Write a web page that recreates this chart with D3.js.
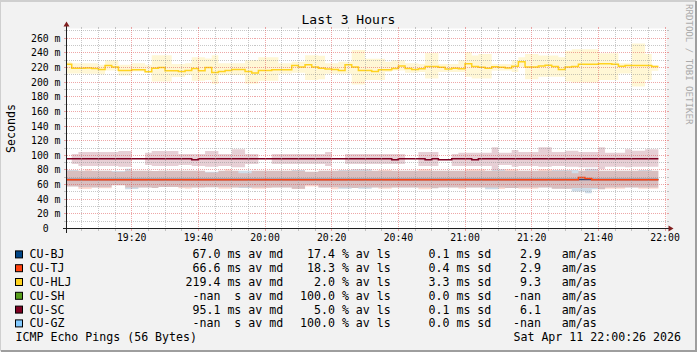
<!DOCTYPE html>
<html>
<head>
<meta charset="utf-8">
<script src="https://cdn.jsdelivr.net/npm/d3@7"></script>
<style>
  html, body { margin: 0; padding: 0; background: #f2f2f2; }
  svg { display: block; font-family: "DejaVu Sans Mono", monospace; }
  text { white-space: pre; }
</style>
</head>
<body>
<div id="chart"></div>
<script>
// legend / summary values
const hosts = ["CU-BJ", "CU-TJ", "CU-HLJ", "CU-SH", "CU-SC", "CU-GZ"];
const hostColors = ["#004586", "#ff420e", "#ffd320", "#579d1c", "#7e0021", "#83caff"];
const avgMedian = [67.0, 66.6, 219.4, NaN, 95.1, NaN];
const avgLoss = [17.4, 18.3, 2.0, 100.0, 5.0, 100.0];
const avgSdev = [0.1, 0.4, 3.3, 0.0, 0.1, 0.0];
const amAs = [2.9, 2.9, 9.3, NaN, 6.1, NaN];

// axis ticks
const yTicks = [0, 20, 40, 60, 80, 100, 120, 140, 160, 180, 200, 220, 240, 260];
const yTickLabels = ["0  ", "20 m", "40 m", "60 m", "80 m", "100 m", "120 m", "140 m", "160 m", "180 m", "200 m", "220 m", "240 m", "260 m"];
const xTickLabels = ["19:20", "19:40", "20:00", "20:20", "20:40", "21:00", "21:20", "21:40", "22:00"];

// 2 minute bins from 19:00, values in ms
const hljMedian = [
  224.4, 219, 219, 219.5, 218.7, 217.3, 222.7, 220.9, 216, 216,
  216.9, 216.9, 214.2, 219, 220, 215.6, 215.6, 214.7, 216, 218.7,
  215.6, 220, 213.3, 214.7, 216, 217.3, 217.3, 214.7, 212.4, 216,
  216, 216.9, 216.9, 216.9, 222.7, 220.9, 224, 220.9, 219.1, 218.2,
  217.3, 216, 224, 220.9, 216, 216, 214.7, 216.9, 216.9, 218.7,
  222.2, 218.7, 217.3, 218.5, 221.3, 221.3, 220.5, 218, 219, 218.5,
  225.3, 221.5, 220.5, 219, 221, 220.5, 219.5, 221.8, 228, 220.9,
  220.9, 222, 223, 221.5, 217.3, 220.9, 221.5, 224.4, 224.4, 224.4,
  225.3, 225.3, 224.4, 221.8, 222.7, 222.7, 222.7, 222.7, 221.3];
const hljHigh = [
  228, 226, 226, 226, 226, 224, 230, 230, 224, 224,
  226, 226, 224, 237, 237, 237, 225, 225, 226, 234,
  234, 232.5, 237, 226, 226, 226, 226, 230, 230, 234,
  234, 234, 226, 226, 228, 228, 237, 237, 236, 226,
  226, 228, 228, 244, 244, 232, 232, 232, 228, 230,
  230, 226, 226, 225, 240, 240, 225, 225, 225, 230,
  241, 236.5, 238.5, 238.5, 225, 225, 225, 230, 234, 238.5,
  238.5, 236.5, 236.5, 236.5, 234, 243, 245, 245, 245, 245,
  239.5, 239.5, 239.5, 226, 226, 253, 253, 238.5, 223];
const hljLow = [
  212, 212, 212, 211.5, 211.5, 211, 216, 216, 209, 209,
  214.5, 214.5, 213, 201, 201, 201, 207, 207, 210, 202,
  202, 203, 197.5, 210, 210, 210, 210, 198, 198, 202,
  202, 202, 211.5, 211.5, 213, 213, 203, 203, 204, 211.5,
  211.5, 211.5, 211.5, 197, 197, 203, 203, 203, 214, 216,
  216, 213, 213, 214, 205, 205, 214, 214, 214, 214,
  207.5, 205, 205, 205, 216, 216, 216, 214, 220.5, 204,
  204, 207.5, 207.5, 207.5, 207.5, 201, 199.5, 199.5, 199.5, 199.5,
  203, 203, 203, 212, 212, 194, 194, 203, 215.5];

const scMedian = [
  95.5, 95.5, 95.5, 95.5, 95.5, 95.5, 95.5, 95.5, 95.5, 95.5,
  95.5, 95.5, 95.5, 95.5, 95.5, 95.5, 95.5, 95.5, 95.5, 94,
  95.5, 95.5, 95.5, 95.5, 95.5, 95.5, 95.5, 95.5, 95.5, 95.5,
  95.5, 95.5, 95.5, 95.5, 95.5, 95.5, 95.5, 95.5, 95.5, 95.5,
  95.5, 95.5, 95.5, 95.5, 95.5, 95.5, 95.5, 95.5, 95.5, 94,
  95.5, 95.5, 95.5, 95.5, 94, 95.5, 94, 94, 95.5, 95.5,
  95.5, 94, 95.5, 95.5, 95.5, 95.5, 95.5, 95.5, 95.5, 95.5,
  95.5, 95.5, 95.5, 95.5, 95.5, 95.5, 95.5, 95.5, 95.5, 95.5,
  95.5, 95.5, 95.5, 95.5, 95.5, 95.5, 95.5, 95.5, 95.5];
const scHigh = [
  null, 101.8, 104.5, 104.5, 104.5, 104.5, 104.5, 104.5, 105.9, 105.9,
  null, null, 103.6, 105.9, 105.9, 105.9, 105.9, 101.8, 101.8, 101.8,
  101.8, 105.9, 105.9, 101.8, 101.8, 108.2, 108.2, 101.8, 101.8, null,
  null, 101.8, 101.8, 101.8, 101.8, 101.8, 101.8, 101.8, 101.8, 104.5,
  null, null, 101.8, 101.8, 101.8, 101.8, 101.8, 101.8, 101.8, 101.8,
  101.8, null, null, 104.5, 104.5, 104.5, null, null, 101.8, 103.6,
  103.6, 103.6, 103.6, 103.6, 110.9, 103.6, 103.6, 107.3, 104.5, 104.5,
  104.5, 110.9, 110.9, 104.5, 104.5, 106.4, 106.4, 104.5, 104.5, 104.5,
  110.9, 103.6, 103.6, 103.6, 108.2, 106.4, 106.4, 108.2, 108.2];
const scLow = [
  null, 88.2, 85.5, 85.5, 85.5, 85.5, 85.5, 85.5, 84.5, 84.5,
  null, null, 86.8, 85.5, 85.5, 85.5, 85.5, 86.8, 86.8, 85.5,
  85.5, 84.5, 84.5, 85.5, 85.5, 83.6, 83.6, 88.2, 88.2, null,
  null, 88.2, 88.2, 88.2, 88.2, 88.2, 88.2, 88.2, 88.2, 85.5,
  null, null, 88.2, 88.2, 88.2, 88.2, 88.2, 88.2, 88.2, 88.2,
  88.2, null, null, 85.5, 85.5, 85.5, null, null, 85.5, 85.5,
  85.5, 85.5, 85.5, 85.5, 80.9, 86.8, 86.8, 84.5, 85.5, 85.5,
  85.5, 84.5, 84.5, 85.5, 85.5, 84.5, 84.5, 83.6, 83.6, 83.6,
  80.9, 84.5, 84.5, 84.5, 83.6, 84.5, 84.5, 84.5, 84.5];

const bjMedian = [
  67, 67, 67, 67, 67, 67, 67, 67, 67, 67,
  67, 67, 67, 67, 67, 67, 67, 67, 67, 67,
  67, 67, 67, 67, 67, 67, 67, 67, 67, 67,
  67, 67, 67, 67, 67, 67, 67, 67, 67, 67,
  67, 67, 67, 67, 67, 67, 67, 67, 67, 67,
  67, 67, 67, 67, 67, 67, 67, 67, 67, 67,
  67, 67, 67, 67, 67, 67, 67, 67, 67, 67,
  67, 67, 67, 67, 67, 67, 67, 67, 67, 67,
  67, 67, 67, 67, 67, 67, 67, 67, 67];
const bjHigh = [
  80, 80, 79.1, 79.1, 79.1, 79.1, 79.1, 78.6, 78.6, 81.8,
  79.1, 79.1, 79.1, 78.6, 79.1, 79.1, 79.1, 79.1, 79.1, 79.1,
  79.1, 77.5, 77.5, 79.1, 79.1, 79.1, 79.1, 79.1, 79.1, 79.1,
  79.1, 79.1, 79.1, 79.1, 80, 80, 77.5, 77.5, 79.1, 79.1,
  79.1, 80, 80, 80.9, 80.9, 80.9, 79.1, 79.1, 79.1, 79.1,
  79.1, 79.1, 79.1, 79.1, 79.1, 79.1, 79.1, 79.1, 79.1, 79.1,
  79.1, 79.1, 79.1, 79.1, 80.9, 80.9, 79.1, 79.1, 79.1, 79.1,
  79.1, 79.1, 79.1, 80, 80, 80, 80, 79.1, 81.8, 81.8,
  79.1, 79.1, 79.1, 79.1, 79.1, 79.1, 80, 80, 79.1];
const bjLow = [
  57.3, 57.3, 56.4, 56.4, 55.9, 56.4, 56.4, 59.1, 59.1, 53.6,
  54.1, 55.9, 55.9, 55.5, 56.8, 56.8, 56.8, 56.4, 56.4, 55.9,
  55.9, 56.4, 56.4, 56.4, 56.4, 55.9, 55.5, 55.5, 56, 56,
  56, 56, 56, 56, 54.5, 54.5, 59, 59, 55.9, 55.9,
  56.4, 54.5, 54.5, 55.5, 54.5, 54.5, 55.9, 55.9, 55.9, 55.9,
  55.9, 55.9, 55.9, 55.9, 55.9, 55, 55.9, 55.9, 55.9, 55.9,
  55.9, 55.9, 55.9, 53.6, 53.6, 55.9, 55.5, 55.5, 55.9, 55.9,
  55.9, 55.9, 55.9, 54.5, 54.5, 54.5, 50.5, 50.5, 48.2, 53.6,
  53.6, 55.9, 55.9, 55.9, 55.9, 55.9, 55.9, 55.9, 55.9];

const tjMedian = [
  66.6, 66.6, 66.6, 66.6, 66.6, 66.6, 66.6, 66.6, 66.6, 66.6,
  66.6, 66.6, 66.6, 66.6, 66.6, 66.6, 66.6, 66.6, 66.6, 66.6,
  66.6, 66.6, 66.6, 66.6, 66.6, 66.6, 66.6, 66.6, 66.6, 66.6,
  66.6, 66.6, 66.6, 66.6, 66.6, 66.6, 66.6, 66.6, 66.6, 66.6,
  66.6, 66.6, 66.6, 66.6, 66.6, 66.6, 66.6, 66.6, 66.6, 66.6,
  66.6, 66.6, 66.6, 66.6, 66.6, 66.6, 66.6, 66.6, 66.6, 66.6,
  66.6, 66.6, 66.6, 66.6, 66.6, 66.6, 66.6, 66.6, 66.6, 66.6,
  66.6, 66.6, 66.6, 66.6, 66.6, 66.6, 66.6, 69.6, 68.2, 66.6,
  66.6, 66.6, 66.6, 66.6, 66.6, 66.6, 66.6, 66.6, 66.6];
const tjHigh = [
  79.1, 79.1, 79.1, 80.9, 79.1, 79.1, 79.1, 77.7, 77.7, 79.1,
  79.1, 79.1, 79.1, 78.6, 79.1, 79.1, 79.1, 79.1, 79.1, 79.1,
  79.1, 76.5, 76.5, 79.1, 80.9, 79.1, 75.5, 75.5, 79.1, 79.1,
  79.1, 79.1, 79.1, 79.1, 79.1, 79.1, 77.7, 77.7, 79.1, 79.1,
  79.1, 79.1, 79.1, 79.1, 79.1, 79.1, 79.1, 80, 80, 79.1,
  79.1, 79.1, 79.1, 80.9, 80.9, 79.1, 79.1, 79.1, 79.1, 79.1,
  80.9, 80.9, 80.9, 79.1, 79.1, 79.1, 80.9, 80.9, 79.1, 79.1,
  79.1, 80.9, 80.9, 79.1, 79.1, 79.1, 75.5, 79.1, 79.1, 79.1,
  79.1, 79.1, 79.1, 79.1, 79.1, 79.1, 79.1, 79.1, 79.1];
const tjLow = [
  57.3, 57.3, 54.1, 54.1, 55.9, 55, 55, 59.1, 59.1, 55.9,
  55.9, 55.9, 55.9, 55.5, 56.8, 56.8, 56.8, 55, 54.5, 55.9,
  55.9, 56.4, 56.4, 54.5, 54.5, 55.9, 56.5, 56.5, 54.5, 54.5,
  55.5, 56, 56, 56, 54.1, 54.1, 57.3, 57.3, 55.9, 55.9,
  53.6, 55.9, 55.9, 55.5, 55.9, 55.9, 55.9, 54.5, 54.5, 55.9,
  55.9, 55.9, 55.9, 53.6, 53.6, 55, 55.9, 55.9, 55.9, 54.5,
  55.9, 55.9, 55.9, 55.9, 55.9, 54.1, 55.5, 55.5, 54.5, 54.5,
  54.5, 55.9, 55.9, 54.5, 54.5, 54.5, 55.5, 55.5, 55.5, 55.5,
  53.6, 54.5, 54.5, 54.5, 55.9, 55.9, 54.5, 54.5, 54.5];

const drawChart = () => {
    const W = 697, H = 352;
    const X0 = 66.5, XS = 600, Y0 = 228.5, YS = 200;   // plot origin + size like rrdtool

    const startTime = new Date(2026, 3, 11, 19, 0, 26);
    const endTime = new Date(2026, 3, 11, 22, 0, 26);
    const binStart = new Date(2026, 3, 11, 19, 0, 0);
    const binMs = 2 * 60 * 1000;

    const x = d3.scaleTime().domain([startTime, endTime]).range([X0, X0 + XS]);
    const y = d3.scaleLinear().domain([0, 273.4]).range([Y0, Y0 - YS]);
    const px = v => Math.floor(v) + 0.5;

    const svg = d3.select("#chart").append("svg")
        .attr("width", W).attr("height", H);

    // background + 3d border
    svg.append("rect").attr("width", W).attr("height", H).attr("fill", "#f2f2f2");
    svg.append("path").attr("d", `M0,${H - 1}V1H${W - 1}`).attr("stroke", "#cfcfcf").attr("stroke-width", 2).attr("fill", "none");
    svg.append("path").attr("d", `M1,${H - 1}H${W - 1}V1`).attr("stroke", "#9e9e9e").attr("stroke-width", 2).attr("fill", "none");

    // canvas
    svg.append("rect").attr("x", X0).attr("y", Y0 - YS).attr("width", XS).attr("height", YS).attr("fill", "#fff");

    svg.append("clipPath").attr("id", "plot-clip")
        .append("rect").attr("x", X0).attr("y", Y0 - YS).attr("width", XS).attr("height", YS);
    const plot = svg.append("g").attr("clip-path", "url(#plot-clip)");

    // each bin becomes two points so steps keep their width next to gaps
    const steps = (lo, hi, med) => med.flatMap((m, i) => {
        const t0 = new Date(binStart.getTime() + i * binMs);
        const t1 = new Date(t0.getTime() + binMs);
        const d = { lo: lo[i], hi: hi[i], m };
        return [{ t: t0, ...d }, { t: t1, ...d }];
    });

    const smoke = d3.area()
        .defined(d => d.lo != null && d.hi != null)
        .x(d => x(d.t)).y0(d => y(d.lo)).y1(d => y(d.hi));
    const median = d3.line().x(d => x(d.t)).y(d => y(d.m));

    const series = [
        { color: hostColors[0], pts: steps(bjLow, bjHigh, bjMedian) },
        { color: hostColors[1], pts: steps(tjLow, tjHigh, tjMedian) },
        { color: hostColors[2], pts: steps(hljLow, hljHigh, hljMedian) },
        { color: hostColors[4], pts: steps(scLow, scHigh, scMedian) }
    ];

    series.forEach(s => {
        plot.append("path").attr("d", smoke(s.pts))
            .attr("fill", s.color).attr("fill-opacity", 0.19);
        plot.append("path").attr("d", median(s.pts))
            .attr("fill", "none").attr("stroke", s.color).attr("stroke-width", 1.5);
    });

    // grid (rrdtool paints it over the data)
    const grid = svg.append("g").attr("fill", "none").attr("shape-rendering", "crispEdges");
    const minorCol = "rgba(143,143,143,0.5)", majorCol = "rgba(222,79,79,0.5)";
    const xMajor = xTickLabels.map(l => {
        const [h, m] = l.split(":");
        return new Date(2026, 3, 11, +h, +m, 0);
    });
    const xMinor = d3.timeMinute.every(5).range(startTime, endTime)
        .filter(t => t.getMinutes() % 20 !== 0);
    const yMinor = d3.range(10, 271, 20);

    const vLine = (t, col) => {
        const gx = px(x(t));
        grid.append("line").attr("x1", gx).attr("x2", gx).attr("y1", Y0).attr("y2", Y0 - YS)
            .attr("stroke", col).attr("stroke-dasharray", "1,1");
        grid.append("line").attr("x1", gx).attr("x2", gx).attr("y1", Y0).attr("y2", Y0 + 2).attr("stroke", col);
        grid.append("line").attr("x1", gx).attr("x2", gx).attr("y1", Y0 - YS - 2).attr("y2", Y0 - YS).attr("stroke", col);
    };
    const hLine = (v, col) => {
        const gy = px(y(v));
        grid.append("line").attr("x1", X0).attr("x2", X0 + XS).attr("y1", gy).attr("y2", gy)
            .attr("stroke", col).attr("stroke-dasharray", "1,1");
        grid.append("line").attr("x1", X0 - 3).attr("x2", X0).attr("y1", gy).attr("y2", gy).attr("stroke", col);
        grid.append("line").attr("x1", X0 + XS).attr("x2", X0 + XS + 2).attr("y1", gy).attr("y2", gy).attr("stroke", col);
    };
    xMinor.forEach(t => vLine(t, minorCol));
    yMinor.forEach(v => hLine(v, minorCol));
    xMajor.forEach(t => vLine(t, majorCol));
    yTicks.filter(v => v > 0).forEach(v => hLine(v, majorCol));

    // axes with arrows
    svg.append("line").attr("x1", X0 - 4).attr("x2", X0 + XS + 4).attr("y1", Y0).attr("y2", Y0)
        .attr("stroke", "#1f1f1f").attr("shape-rendering", "crispEdges");
    svg.append("line").attr("x1", X0).attr("x2", X0).attr("y1", Y0 + 4).attr("y2", Y0 - YS - 4)
        .attr("stroke", "#1f1f1f").attr("shape-rendering", "crispEdges");
    svg.append("path")
        .attr("d", `M${X0 + XS + 2},${Y0 - 3}L${X0 + XS + 2},${Y0 + 3}L${X0 + XS + 7},${Y0}Z`)
        .attr("fill", "#801f1f");
    svg.append("path")
        .attr("d", `M${X0 - 3},${Y0 - YS - 2}L${X0 + 3},${Y0 - YS - 2}L${X0},${Y0 - YS - 7}Z`)
        .attr("fill", "#801f1f");

    // tick labels
    const tickFont = "9.8px";
    yTicks.forEach((v, i) => {
        svg.append("text").attr("x", 60.5).attr("y", y(v) + 3.5)
            .attr("text-anchor", "end").style("font-size", tickFont)
            .text(yTickLabels[i]);
    });
    xMajor.forEach((t, i) => {
        svg.append("text").attr("x", x(t)).attr("y", 240.5)
            .attr("text-anchor", "middle").style("font-size", tickFont)
            .text(xTickLabels[i]);
    });

    // title, unit label, watermark
    svg.append("text").attr("x", 348.5).attr("y", 24).attr("text-anchor", "middle")
        .style("font-size", "13px").text("Last 3 Hours");
    svg.append("text").attr("transform", `translate(15,${Y0 - YS / 2}) rotate(-90)`)
        .attr("text-anchor", "middle").style("font-size", "11.6px").text("Seconds");
    svg.append("text").attr("transform", "translate(685.5,4) rotate(90)")
        .attr("fill", "#ababab").style("font-size", "9.1px").text("RRDTOOL / TOBI OETIKER");

    // legend
    const fmt = (v, w) => (isNaN(v) ? "-nan" : v.toFixed(1)).padStart(w, " ");
    const legend = svg.append("g").style("font-size", "11.6px");
    hosts.forEach((h, i) => {
        const by = 258.4 + i * 13.8;
        legend.append("rect").attr("x", 15.5).attr("y", by - 7.5).attr("width", 7).attr("height", 7)
            .attr("fill", hostColors[i]).attr("stroke", "#000").attr("stroke-width", 1);
        const cells = [
            [29.5, h],
            [185.5, `${fmt(avgMedian[i], 5)} ${isNaN(avgMedian[i]) ? " s" : "ms"} av md`],
            [300, `${fmt(avgLoss[i], 5)} % av ls`],
            [428.5, `${fmt(avgSdev[i], 3)} ms sd`],
            [513, `${fmt(amAs[i], 4)}   am/as`]
        ];
        cells.forEach(([cx, s]) => {
            legend.append("text").attr("x", cx).attr("y", by).text(s);
        });
    });
    legend.append("text").attr("x", 15.5).attr("y", 341.3).text("ICMP Echo Pings (56 Bytes)");
    legend.append("text").attr("x", 681).attr("y", 341.3).attr("text-anchor", "end")
        .text("Sat Apr 11 22:00:26 2026");
};

drawChart();
</script>
</body>
</html>
